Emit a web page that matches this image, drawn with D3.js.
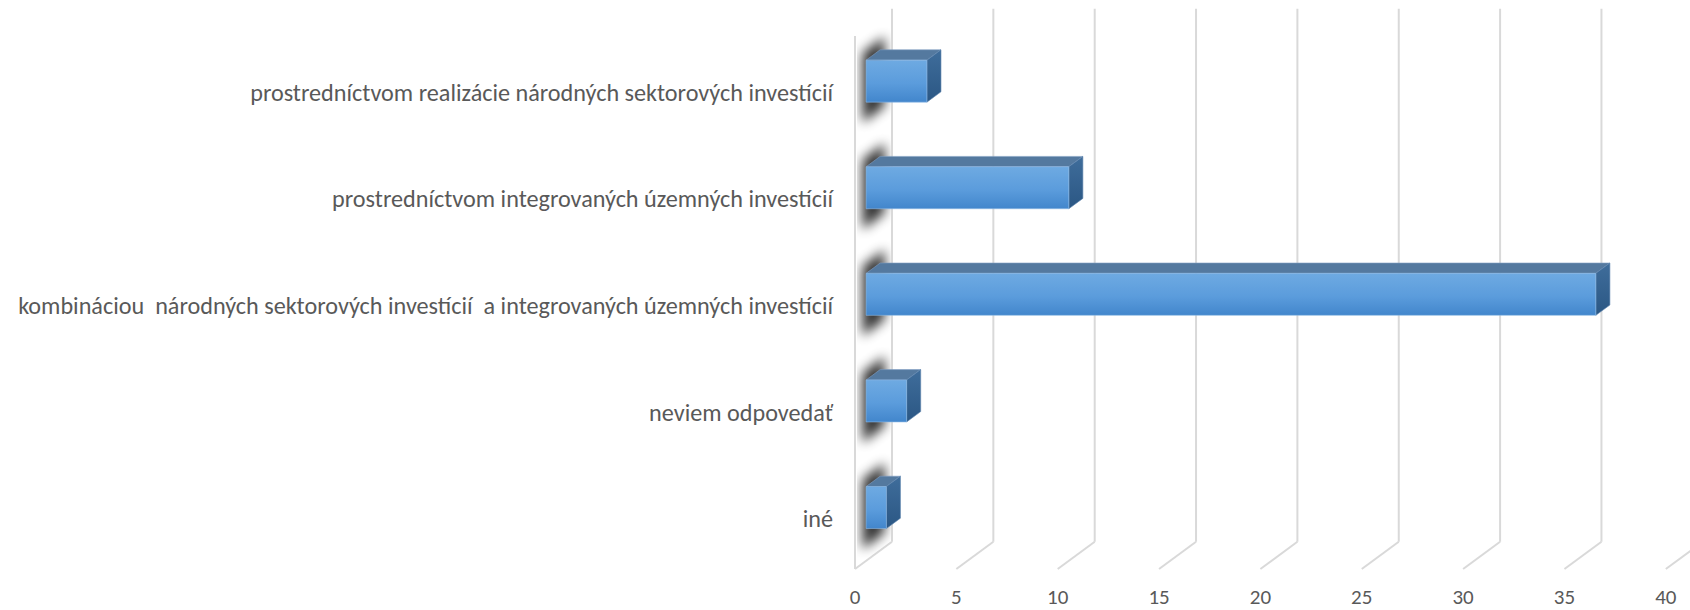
<!DOCTYPE html>
<html>
<head>
<meta charset="utf-8">
<script src="https://cdn.jsdelivr.net/npm/d3@7"></script>
<style>
  html, body { margin: 0; padding: 0; background: #ffffff; }
  svg { display: block; }
</style>
</head>
<body>
<svg id="chart" width="1690" height="610"></svg>
<script>
// ---- data ----
const categories = [
  "prostredníctvom realizácie národných sektorových investícií",
  "prostredníctvom integrovaných územných investícií",
  "kombináciou  národných sektorových investícií  a integrovaných územných investícií",
  "neviem odpovedať",
  "iné"
];
const values = [3, 10, 36, 2, 1];
const tickValues = [0, 5, 10, 15, 20, 25, 30, 35, 40];

// ---- layout ----
const svg = d3.select("#chart");
const frontLeft = 855, frontRight = 1665.8;
const frontTop = 36, frontBottom = 569;
const depthX = 37, depthY = -27.2;     // oblique depth vector
const f0 = 0.3, f1 = 0.68;             // bar depth range (fraction of full depth)

const x = d3.scaleLinear().domain([0, 40]).range([frontLeft, frontRight]);
const y = d3.scaleBand().domain(categories).range([frontTop, frontBottom])
  .paddingInner(0.606).paddingOuter(0.303);

const P = (v, yy, f) => [x(v) + depthX * f, yy + depthY * f];
const pts = arr => arr.map(p => p.join(",")).join(" ");

const defs = svg.append("defs");
const gFront = defs.append("linearGradient").attr("id", "gFront").attr("x1", 0).attr("y1", 0).attr("x2", 0).attr("y2", 1);
gFront.append("stop").attr("offset", "0%").attr("stop-color", "#6eaae2");
gFront.append("stop").attr("offset", "55%").attr("stop-color", "#5b9cdc");
gFront.append("stop").attr("offset", "100%").attr("stop-color", "#4286cc");
const gSide = defs.append("linearGradient").attr("id", "gSide").attr("x1", 0).attr("y1", 0).attr("x2", 0).attr("y2", 1);
gSide.append("stop").attr("offset", "0%").attr("stop-color", "#3f6d9b");
gSide.append("stop").attr("offset", "100%").attr("stop-color", "#2b5784");
defs.append("filter").attr("id", "blur").attr("x", "-80%").attr("y", "-80%").attr("width", "260%").attr("height", "260%")
  .append("feGaussianBlur").attr("stdDeviation", 6);
defs.append("clipPath").attr("id", "wallClip").append("polygon")
  .attr("points", pts([P(0, frontTop - 20, 0.05), P(0, frontTop - 20, 0.97), P(0, frontBottom, 0.97), P(0, frontBottom, 0.05)]));

const gridColor = "#d9d9d9";
const grid = svg.append("g").attr("stroke", gridColor).attr("stroke-width", 2).attr("fill", "none");
// back wall vertical gridlines
grid.selectAll("line.back").data(tickValues).join("line").attr("class", "back")
  .attr("x1", d => P(d, frontTop, 1)[0]).attr("x2", d => P(d, frontBottom, 1)[0])
  .attr("y1", d => P(d, frontTop, 1)[1]).attr("y2", d => P(d, frontBottom, 1)[1]);
// floor gridlines
grid.selectAll("line.floor").data(tickValues).join("line").attr("class", "floor")
  .attr("x1", d => P(d, frontBottom, 0)[0]).attr("x2", d => P(d, frontBottom, 1)[0])
  .attr("y1", d => P(d, frontBottom, 0)[1]).attr("y2", d => P(d, frontBottom, 1)[1]);
// left wall front edge
grid.append("line")
  .attr("x1", P(0, frontTop, 0)[0]).attr("x2", P(0, frontBottom, 0)[0])
  .attr("y1", P(0, frontTop, 0)[1]).attr("y2", P(0, frontBottom, 0)[1]);

// shadows on left wall
const shadowG = svg.append("g").attr("clip-path", "url(#wallClip)");
shadowG.selectAll("polygon").data(categories).join("polygon")
  .attr("points", d => {
    const top = y(d), bot = y(d) + y.bandwidth();
    return pts([P(0, top - 10, 0.2), P(0, top - 10, 0.8), P(0, bot + 18, 0.8), P(0, bot + 18, 0.2)]);
  })
  .attr("fill", "#000").attr("opacity", 0.8).attr("filter", "url(#blur)");

// bars
const bars = svg.append("g").selectAll("g").data(categories).join("g");
bars.each(function (d, i) {
  const g = d3.select(this);
  const v = values[i];
  const top = y(d), bot = y(d) + y.bandwidth();
  g.append("polygon").attr("points", pts([P(0, top, f0), P(v, top, f0), P(v, top, f1), P(0, top, f1)]))
    .attr("fill", "#54799f").attr("stroke", "#7f9ec2").attr("stroke-width", 0.6);
  g.append("polygon").attr("points", pts([P(v, top, f0), P(v, top, f1), P(v, bot, f1), P(v, bot, f0)]))
    .attr("fill", "url(#gSide)").attr("stroke", "#5d83ac").attr("stroke-width", 0.6);
  g.append("polygon").attr("points", pts([P(0, top, f0), P(v, top, f0), P(v, bot, f0), P(0, bot, f0)]))
    .attr("fill", "url(#gFront)").attr("stroke", "#8fbbe6").attr("stroke-width", 0.6);
});

// value axis labels
svg.append("g").selectAll("text").data(tickValues).join("text")
  .attr("x", d => x(d)).attr("y", 596.5)
  .attr("text-anchor", "middle").attr("dominant-baseline", "central")
  .attr("font-family", "Carlito, Calibri, Lato, 'Open Sans', sans-serif").style("font-size", "21px")
  .attr("fill", "#595959").text(d => d);

// category labels
const labels = svg.append("g").selectAll("text").data(categories).join("text")
  .attr("x", 833).attr("y", d => y(d) + y.bandwidth() / 2 + 3)
  .attr("text-anchor", "end").attr("dominant-baseline", "central")
  .attr("font-family", "Carlito, Calibri, Lato, 'Open Sans', sans-serif").style("font-size", "18px")
  .attr("fill", "#595959").style("white-space", "pre").text(d => d);
// fit font size so the longest label spans the same width as in the reference
const longest = labels.filter((d, i) => i === 2).node().getComputedTextLength();
const fs = 18 * 815 / longest;
labels.style("font-size", fs.toFixed(2) + "px");
</script>
</body>
</html>
